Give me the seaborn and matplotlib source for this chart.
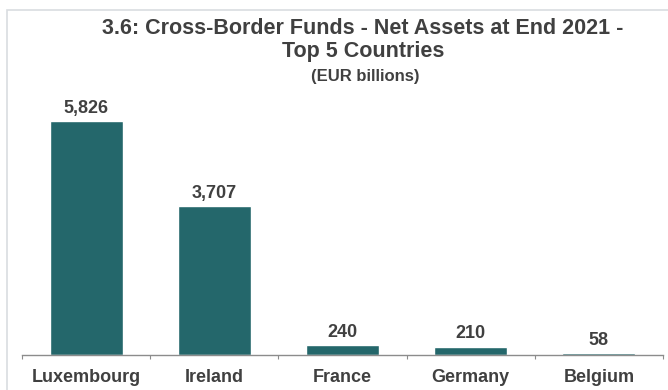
import matplotlib
matplotlib.use("Agg")
import matplotlib.pyplot as plt
from matplotlib.patches import Rectangle
import seaborn as sns

# DATA (EUR billions)
countries = ["Luxembourg", "Ireland", "France", "Germany", "Belgium"]
net_assets = [5826, 3707, 240, 210, 58]

sns.set_style("white")
plt.rcParams["font.family"] = ["Liberation Sans", "DejaVu Sans"]
txt = "#404040"

fig = plt.figure(figsize=(6.68, 3.9), dpi=100)
# light frame around chart, cut off at right and bottom
fig.patches.append(Rectangle((7/668, -0.1), 2, 1 - 10/390 + 0.1, transform=fig.transFigure,
                             fill=False, edgecolor="#d9dde0", lw=1.2))

ax = fig.add_axes([22/668, 35/390, 641/668, 257/390])
sns.barplot(x=countries, y=net_assets, color="#24676b", width=0.57, saturation=1, ax=ax)
ax.bar_label(ax.containers[0], labels=[f"{v:,}" for v in net_assets],
             padding=3, fontsize=13, fontweight="bold", color=txt)

ax.set_xlim(-0.5, 4.5)
ax.set_ylim(0, 6400)
ax.set_yticks([])
ax.set_ylabel("")
for s in ["top", "right", "left"]:
    ax.spines[s].set_visible(False)
ax.spines["bottom"].set_color("#8c8c8c")
ax.spines["bottom"].set_linewidth(1)
# tick marks between categories, labels under the bars
ax.set_xticks([i - 0.5 for i in range(6)], minor=False)
ax.set_xticklabels([])
ax.set_xticks(range(5), minor=True)
ax.set_xticklabels(countries, minor=True, fontsize=13, fontweight="bold", color=txt)
ax.tick_params(axis="x", which="major", bottom=True, length=3, color="#8c8c8c", direction="out")
ax.tick_params(axis="x", which="minor", bottom=False, length=0, pad=10)

fig.text(363/668, 1 - 29/390, "3.6: Cross-Border Funds - Net Assets at End 2021 -",
         ha="center", va="center", fontsize=15.5, fontweight="bold", color=txt)
fig.text(363/668, 1 - 51/390, "Top 5 Countries",
         ha="center", va="center", fontsize=15.5, fontweight="bold", color=txt)
fig.text(365/668, 1 - 76/390, "(EUR billions)", ha="center", va="center",
         fontsize=12, fontweight="bold", color=txt)

fig.savefig("out.png", dpi=100)
